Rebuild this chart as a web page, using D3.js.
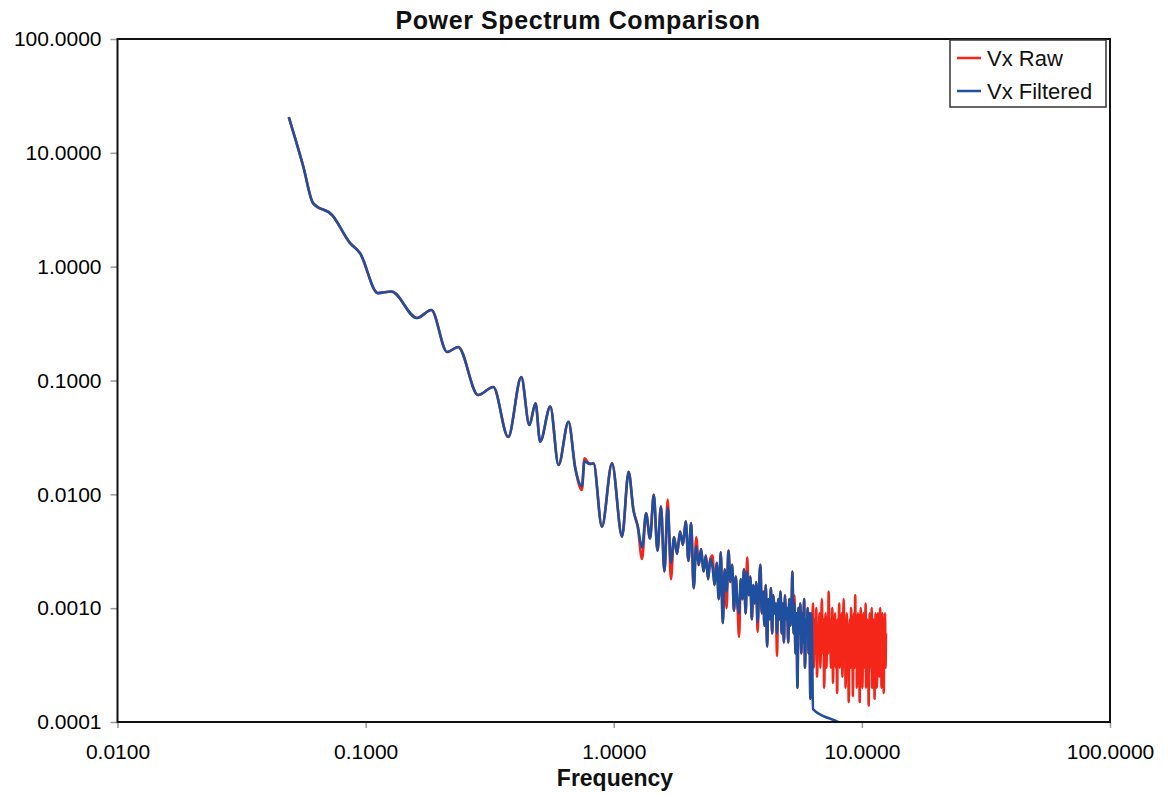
<!DOCTYPE html>
<html><head><meta charset="utf-8">
<script src="https://cdn.jsdelivr.net/npm/d3@7"></script>
<style>body{margin:0;background:#fff}svg{display:block;font-family:"Liberation Sans",Arial,sans-serif}</style>
</head><body><svg id="c" width="1172" height="795"></svg>
<script>
// ---- data ----
const freq = [
 0.049,0.0561,0.0614,0.0733,0.0866,0.095,0.112,0.127,0.161,0.184,0.213,0.236,0.284,0.327,0.3755,
 0.424,0.457,0.484,0.505,0.555,0.599,0.657,0.70,0.744,0.762,0.80,0.829,0.896,0.984,1.08,1.148,1.20,
 1.25,1.3,1.35,1.4,1.45,1.5,1.55,1.6,1.65,1.7,1.75,1.8,1.85,1.9,1.95,2,2.05,2.1,2.15,2.2,2.25,2.3,2.35,2.4,2.45,
 2.5,2.55,2.6,2.65,2.7,2.75,2.8,2.85,2.9,2.95,3,3.05,3.1,3.15,3.2,3.25,3.3,3.35,3.4,3.45,3.5,3.55,3.6,3.65,3.7,
 3.75,3.8,3.85,3.9,3.95,4,4.05,4.1,4.15,4.2,4.25,4.3,4.35,4.4,4.45,4.5,4.55,4.6,4.65,4.7,4.75,4.8,4.85,4.9,4.95,
 5,5.05,5.1,5.15,5.2,5.25,5.3,5.35,5.4,5.45,5.5,5.55,5.6,5.65,5.7,5.75,5.8,5.85,5.9,5.95,6,6.05,6.1,6.15,6.2,6.25,6.3,
 6.35,6.4,6.45,6.5,6.55,6.6,6.65,6.7,6.75,6.8,6.85,6.9,6.95,7,7.05,7.1,7.15,7.2,7.25,7.3,7.35,7.4,7.45,7.5,
 7.55,7.6,7.65,7.7,7.75,7.8,7.85,7.9,7.95,8,8.05,8.1,8.15,8.2,8.25,8.3,8.35,8.4,8.45,8.5,8.55,8.6,8.65,8.7,
 8.75,8.8,8.85,8.9,8.95,9,9.05,9.1,9.15,9.2,9.25,9.3,9.35,9.4,9.45,9.5,9.55,9.6,9.65,9.7,9.75,9.8,9.85,9.9,
 9.95,10,10.05,10.1,10.15,10.2,10.25,10.3,10.35,10.4,10.45,10.5,10.55,10.6,10.65,10.7,10.75,10.8,10.85,10.9,
 10.95,11,11.05,11.1,11.15,11.2,11.25,11.3,11.35,11.4,11.45,11.5,11.55,11.6,11.65,11.7,11.75,11.8,11.85,11.9,
 11.95,12,12.05,12.1,12.15,12.2,12.25,12.3,12.35,12.4,12.45,12.5
];
const vxRaw = [
 20.6,7.55,3.62,2.84,1.61,1.31,0.585,0.605,0.354,0.416,0.178,0.197,0.0746,0.0877,0.0319,
 0.107,0.0406,0.063,0.029,0.0589,0.0181,0.0434,0.0169,0.0109,0.0207,0.0185,0.0187,0.0052,0.0187,0.00425,0.0158,0.0073,
 0.0052,0.0027,0.0068,0.0041,0.0099,0.0032,0.0078,0.0021,0.0090,0.0018,0.0042,0.0030,0.0047,0.0036,0.0058,0.0026,0.0056,0.0015,0.0042,0.0024,0.0033,0.0021,0.0029,0.0018,0.0027,
 0.0029,0.0016,0.0025,0.0012,0.0031,0.00074,0.0022,0.0010,0.0032,0.0017,0.0024,0.00095,0.0019,0.0011,0.00056,0.0018,0.0012,0.0022,0.0009,0.0028,0.0013,0.0019,0.0008,0.0016,0.0011,
 0.0017,0.00062,0.0015,0.0024,0.0009,0.0014,0.0007,0.0016,0.00046,0.0012,0.0008,0.0015,0.0006,0.0013,0.0009,0.0011,0.00038,0.0012,0.0008,0.0014,0.0006,0.0011,0.0005,0.0013,0.0008,
 0.0010,0.0005,0.0012,0.0007,0.0009,0.0021,0.0006,0.0013,0.0004,0.0009,0.0002,0.0010,0.0006,0.0011,0.0004,0.0009,0.0005,0.0012,0.0003,0.0008,0.0006,0.0010,0.0004,0.0009,0.00016,0.0009,0.0005,
 0.0011,0.0003,0.0008,0.0004,0.0010,0.00025,0.0007,0.0005,0.0009,0.0003,0.0006,0.0012,0.0004,0.0008,0.0002,0.0006,0.0009,0.0003,0.0007,0.0004,0.0014,0.0005,0.0008,0.0003,
 0.0006,0.0010,0.00022,0.0007,0.0004,0.0009,0.0003,0.0006,0.00018,0.0008,0.0005,0.0011,0.0003,0.0007,0.0004,0.0009,0.00025,0.0006,0.0012,0.0004,0.0007,0.0002,0.0006,0.0009,
 0.0003,0.0007,0.00015,0.0005,0.0008,0.0003,0.0010,0.0004,0.0007,0.00017,0.0006,0.0009,0.0003,0.0013,0.0004,0.0007,0.0002,0.0005,0.0009,0.0003,0.0007,0.00015,0.0006,0.0010,
 0.0004,0.0008,0.0002,0.0005,0.0009,0.0003,0.0007,0.0004,0.0011,0.0002,0.0006,0.0008,0.0003,0.0006,0.00014,0.0005,0.0009,0.0003,0.0007,0.0004,
 0.0010,0.0002,0.0006,0.0008,0.0003,0.0006,0.00016,0.0005,0.0009,0.0003,0.0007,0.0002,0.0005,0.0009,0.0004,0.0007,0.00025,0.0006,0.0010,0.0003,
 0.0008,0.0002,0.0005,0.0009,0.0003,0.0006,0.00018,0.0007,0.0004,0.0009,0.0003,0.0006
];
// filtered series: identical bins up to 6.3 Hz, then the filter cut-off tail
const vxFiltered = [
 20.6,7.55,3.62,2.84,1.61,1.31,0.585,0.605,0.354,0.416,0.178,0.197,0.0746,0.0877,0.0319,
 0.107,0.0406,0.063,0.029,0.0589,0.0181,0.0434,0.0169,0.0118,0.0195,0.0185,0.0187,0.0052,0.0187,0.00425,0.0158,0.0073,
 0.0052,0.0034,0.0068,0.0041,0.0099,0.0032,0.0078,0.0021,0.0076,0.0025,0.0042,0.0030,0.0047,0.0036,0.0058,0.0026,0.0056,0.0015,0.0035,0.0024,0.0033,0.0021,0.0029,0.0018,0.0027,
 0.0023,0.0016,0.0025,0.0012,0.0031,0.00074,0.0022,0.0014,0.0032,0.0017,0.0024,0.00095,0.0019,0.0011,0.0009,0.0018,0.0012,0.0022,0.0009,0.0021,0.0013,0.0019,0.0008,0.0016,0.0011,
 0.0017,0.00075,0.0015,0.0024,0.0009,0.0014,0.0007,0.0016,0.00046,0.0012,0.0008,0.0015,0.0006,0.0013,0.0009,0.0011,0.0006,0.0012,0.0008,0.0014,0.0006,0.0011,0.0005,0.0013,0.0008,
 0.0010,0.0005,0.0012,0.0007,0.0009,0.0021,0.0006,0.0011,0.0004,0.0009,0.0002,0.0010,0.0006,0.0011,0.0004,0.0009,0.0005,0.0012,0.0003,0.0008,0.0006,0.0010,0.0004,0.0009,0.00016,0.0009,0.0005
];
const filteredTailFreq = [6.35, 8.0, 10.0, 12.5];
const filteredTailVals = [0.00013, 0.0001, 0.000075, 0.000057];
const xTicks = [0.01, 0.1, 1, 10, 100];
const yTicks = [0.0001, 0.001, 0.01, 0.1, 1, 10, 100];
const seriesNames = ["Vx Raw", "Vx Filtered"];
const titleText = "Power Spectrum Comparison";
const xTitle = "Frequency";

// ---- drawing ----
const colors = ["#f4261a", "#1f4f9f"];
const svg = d3.select("#c");
const L = 117.5, R = 1110, T = 39, B = 722;
const x = d3.scaleLog().domain([0.01, 100]).range([L, R]);
const y = d3.scaleLog().domain([0.0001, 100]).range([B, T]);

svg.append("defs").append("clipPath").attr("id", "clip")
  .append("rect").attr("x", L).attr("y", T).attr("width", R - L).attr("height", B - T);

const rawPts = freq.map((f, i) => [f, vxRaw[i]]);
const filtPts = vxFiltered.map((v, i) => [freq[i], v])
  .concat(filteredTailFreq.map((f, i) => [f, filteredTailVals[i]]));

const line = d3.line().x(d => x(d[0])).y(d => y(d[1])).curve(d3.curveMonotoneX);
const g = svg.append("g").attr("clip-path", "url(#clip)");
g.append("path").datum(rawPts).attr("d", line).attr("fill", "none")
  .attr("stroke", colors[0]).attr("stroke-width", 2.6).attr("stroke-linejoin", "round");
g.append("path").datum(filtPts).attr("d", line).attr("fill", "none")
  .attr("stroke", colors[1]).attr("stroke-width", 2.6).attr("stroke-linejoin", "round");

// axes
const fmt = d3.format(".4f");
const xAxis = svg.append("g").attr("transform", `translate(0,${B})`)
  .call(d3.axisBottom(x).tickValues(xTicks).tickFormat(fmt).tickSize(6).tickPadding(16));
const yAxis = svg.append("g").attr("transform", `translate(${L},0)`)
  .call(d3.axisLeft(y).tickValues(yTicks).tickFormat(fmt).tickSize(7).tickPadding(9));
[xAxis, yAxis].forEach(a => {
  a.select(".domain").remove();
  a.selectAll(".tick line").attr("stroke", "#999").attr("stroke-width", 1.5);
  a.selectAll(".tick text").attr("fill", "#000").style("font-size", "21px")
    .style("font-family", '"Liberation Sans",Arial,sans-serif');
});

// plot frame
svg.append("rect").attr("x", L).attr("y", T).attr("width", R - L).attr("height", B - T)
  .attr("fill", "none").attr("stroke", "#111").attr("stroke-width", 2);

// title & axis title
svg.append("text").attr("x", 578).attr("y", 29).attr("text-anchor", "middle")
  .style("font-size", "25px").style("font-weight", "bold").style("letter-spacing", "0.6px")
  .attr("fill", "#111").text(titleText);
svg.append("text").attr("x", 615).attr("y", 786).attr("text-anchor", "middle")
  .style("font-size", "23px").style("font-weight", "bold").attr("fill", "#111").text(xTitle);

// legend
const lg = svg.append("g");
lg.append("rect").attr("x", 950).attr("y", 40).attr("width", 156).attr("height", 67)
  .attr("fill", "#fff").attr("stroke", "#333").attr("stroke-width", 1.5);
seriesNames.forEach((n, i) => {
  const yy = 58 + i * 33;
  lg.append("line").attr("x1", 957).attr("x2", 981).attr("y1", yy).attr("y2", yy)
    .attr("stroke", colors[i]).attr("stroke-width", 2.5);
  lg.append("text").attr("x", 987).attr("y", yy + 8).style("font-size", "22px")
    .attr("fill", "#111").text(n);
});
</script></body></html>
